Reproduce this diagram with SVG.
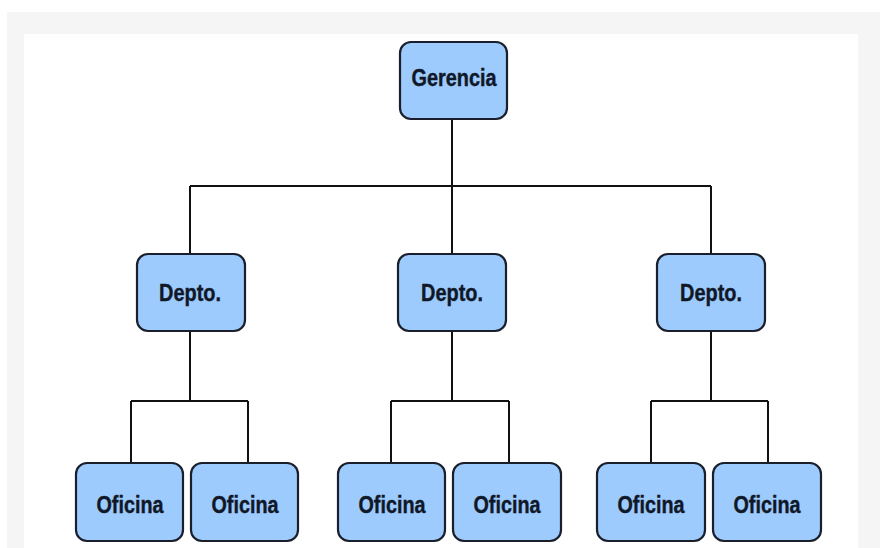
<svg xmlns="http://www.w3.org/2000/svg" width="880" height="548" viewBox="0 0 880 548">
  <style>
    .box { fill: #9dcbfd; stroke: #1b1f2b; stroke-width: 2.2; }
    .lbl { font-family: "Liberation Sans", Arial, sans-serif; font-weight: bold; font-size: 24px; fill: #101828; stroke: #101828; stroke-width: 0.4; text-anchor: middle; }
    .wire { fill: none; stroke: #111; stroke-width: 2; }
  </style>
  <!-- page backdrop -->
  <rect x="0" y="0" width="880" height="548" fill="#ffffff"/>
  <rect x="7" y="12" width="873" height="536" fill="#f5f5f5"/>
  <rect x="24" y="34" width="834" height="514" fill="#ffffff"/>

  <!-- connectors -->
  <g id="connectors" class="wire">
    <path d="M452 119 V186 M190 186 H711 M190 186 V254 M452 186 V254 M711 186 V254"/>
    <path d="M190 331 V401 M131 401 H248 M131 401 V463 M248 401 V463"/>
    <path d="M452 331 V401 M391 401 H509 M391 401 V463 M509 401 V463"/>
    <path d="M711 331 V401 M651 401 H768 M651 401 V463 M768 401 V463"/>
  </g>

  <g id="gerencia">
    <rect class="box" x="400" y="42" width="107" height="77" rx="11"/>
    <text class="lbl" x="454" y="86" textLength="85" lengthAdjust="spacingAndGlyphs">Gerencia</text>
  </g>

  <g id="depto-1">
    <rect class="box" x="137" y="254" width="108" height="77" rx="11"/>
    <text class="lbl" x="190" y="301" textLength="62" lengthAdjust="spacingAndGlyphs">Depto.</text>
  </g>
  <g id="depto-2">
    <rect class="box" x="398" y="254" width="108" height="77" rx="11"/>
    <text class="lbl" x="452" y="301" textLength="62" lengthAdjust="spacingAndGlyphs">Depto.</text>
  </g>
  <g id="depto-3">
    <rect class="box" x="657" y="254" width="108" height="77" rx="11"/>
    <text class="lbl" x="711" y="301" textLength="62" lengthAdjust="spacingAndGlyphs">Depto.</text>
  </g>

  <g id="oficina-1">
    <rect class="box" x="76" y="463" width="107" height="78" rx="11"/>
    <text class="lbl" x="130" y="513" textLength="67" lengthAdjust="spacingAndGlyphs">Oficina</text>
  </g>
  <g id="oficina-2">
    <rect class="box" x="191" y="463" width="107" height="78" rx="11"/>
    <text class="lbl" x="245" y="513" textLength="67" lengthAdjust="spacingAndGlyphs">Oficina</text>
  </g>
  <g id="oficina-3">
    <rect class="box" x="338" y="463" width="107" height="78" rx="11"/>
    <text class="lbl" x="392" y="513" textLength="67" lengthAdjust="spacingAndGlyphs">Oficina</text>
  </g>
  <g id="oficina-4">
    <rect class="box" x="453" y="463" width="108" height="78" rx="11"/>
    <text class="lbl" x="507" y="513" textLength="67" lengthAdjust="spacingAndGlyphs">Oficina</text>
  </g>
  <g id="oficina-5">
    <rect class="box" x="597" y="463" width="108" height="78" rx="11"/>
    <text class="lbl" x="651" y="513" textLength="67" lengthAdjust="spacingAndGlyphs">Oficina</text>
  </g>
  <g id="oficina-6">
    <rect class="box" x="713" y="463" width="108" height="78" rx="11"/>
    <text class="lbl" x="767" y="513" textLength="67" lengthAdjust="spacingAndGlyphs">Oficina</text>
  </g>
</svg>
